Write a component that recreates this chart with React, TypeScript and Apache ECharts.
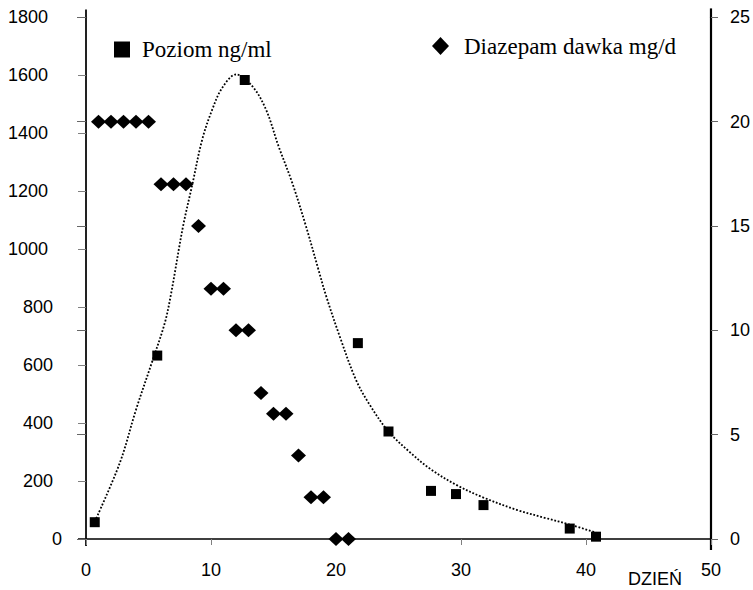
import { useEffect, useRef } from "react";
import * as echarts from "echarts";

// Poziom ng/ml (left axis) — day, level
const levelDays = [0.7, 5.7, 12.7, 21.75, 24.2, 27.6, 29.6, 31.8, 38.7, 40.8];
const levelValues = [58, 633, 1584, 676, 371, 166, 155, 117, 36, 8];

// Diazepam dawka mg/d (right axis) — day, dose
const doseDays = [1, 2, 3, 4, 5, 6, 7, 8, 9, 10, 11, 12, 13, 14, 15, 16, 17, 18, 19, 20, 21];
const doseValues = [20, 20, 20, 20, 20, 17, 17, 17, 15, 12, 12, 10, 10, 7, 6, 6, 4, 2, 2, 0, 0];

// Dotted trend curve
const trendDays = [0.7, 2.7, 4.0, 5.3, 6.3, 6.8, 7.75, 8.5, 9.3, 10.1, 10.9, 12.0, 13.3, 14.4, 15.4, 16.5, 17.6, 18.6, 19.2, 20.3, 21.6, 22.7, 24.2, 25.9, 27.6, 29.7, 31.8, 34.5, 36.8, 38.7, 40.8];
const trendValues = [60, 262, 446, 613, 745, 845, 1076, 1222, 1379, 1482, 1557, 1603, 1563, 1482, 1356, 1229, 1079, 929, 840, 699, 549, 463, 371, 300, 240, 185, 143, 100, 72, 50, 22];

const xTicks = { min: 0, max: 50, interval: 10 };
const leftTicks = { min: 0, max: 1800, interval: 200 };
const rightTicks = { min: 0, max: 25, interval: 5 };

const SANS = '"Liberation Sans", Arial, sans-serif';
const SERIF = '"Liberation Serif", "Times New Roman", serif';

export default function App() {
  const ref = useRef<HTMLDivElement>(null);

  useEffect(() => {
    const chart = echarts.init(ref.current!, null, { renderer: "svg" });
    const numStyle = { fontFamily: SANS, fontSize: 18, color: "#000" };
    chart.setOption({
      animation: false,
      backgroundColor: "#fff",
      grid: { left: 86, right: 41, top: 17.4, bottom: 51, containLabel: false },
      legend: [
        {
          data: [{ name: "Poziom ng/ml", icon: "rect" }],
          left: 109,
          top: 33,
          itemWidth: 16,
          itemHeight: 16,
          selectedMode: false,
          itemStyle: { opacity: 1, color: "#000" },
          textStyle: { fontFamily: SERIF, fontSize: 23, color: "#000", padding: [0, 0, 0, 7] },
        },
        {
          data: [{ name: "Diazepam dawka mg/d", icon: "diamond" }],
          left: 427,
          top: 29.5,
          itemWidth: 17,
          itemHeight: 18,
          selectedMode: false,
          itemStyle: { opacity: 1, color: "#000" },
          textStyle: { fontFamily: SERIF, fontSize: 23, color: "#000", padding: [0, 0, 0, 10] },
        },
      ],
      xAxis: {
        type: "value",
        ...xTicks,
        splitLine: { show: false },
        axisLine: { show: true, onZero: false, lineStyle: { color: "#000", width: 1.5 } },
        axisTick: { show: true, length: 6, lineStyle: { color: "#808080", width: 1 } },
        axisLabel: { ...numStyle, margin: 22 },
      },
      yAxis: [
        {
          type: "value",
          position: "left",
          ...leftTicks,
          splitLine: { show: false },
          axisLine: { show: true, onZero: false, lineStyle: { color: "#222", width: 2 } },
          axisTick: { show: true, length: 8, lineStyle: { color: "#808080", width: 1 } },
          axisLabel: {
            ...numStyle,
            margin: 24,
            align: "right",
            formatter: (v: number) => `{d${String(v).length}|${v}}`,
            rich: {
              d4: { ...numStyle, padding: [0, 14, 0, 0] },
              d3: { ...numStyle, padding: [0, 9, 0, 0] },
              d1: { ...numStyle, padding: [0, 0, 0, 0] },
            },
          },
        },
        {
          type: "value",
          position: "right",
          ...rightTicks,
          splitLine: { show: false },
          axisLine: { show: true, onZero: false, lineStyle: { color: "#000", width: 2.2 } },
          axisTick: { show: true, length: 7, lineStyle: { color: "#666", width: 1 } },
          axisLabel: { ...numStyle, margin: 19, align: "left" },
        },
        {
          type: "value",
          position: "right",
          ...rightTicks,
          splitLine: { show: false },
          axisLine: { show: false },
          axisTick: { show: true, inside: true, length: 9, lineStyle: { color: "#666", width: 1 } },
          axisLabel: { show: false },
        },
      ],
      series: [
        {
          name: "trend",
          type: "line",
          yAxisIndex: 0,
          data: trendDays.map((d, i) => [d, trendValues[i]]),
          smooth: 0.35,
          showSymbol: false,
          symbol: "none",
          z: 1,
          lineStyle: { color: "#000", width: 1.8, type: [1.8, 1.8], opacity: 1 },
        },
        {
          name: "Poziom ng/ml",
          type: "scatter",
          yAxisIndex: 0,
          symbol: "rect",
          symbolSize: 10,
          z: 3,
          itemStyle: { color: "#000", opacity: 1 },
          data: levelDays.map((d, i) => [d, levelValues[i]]),
        },
        {
          name: "Diazepam dawka mg/d",
          type: "scatter",
          yAxisIndex: 1,
          symbol: "diamond",
          symbolSize: [15, 14],
          z: 3,
          itemStyle: { color: "#000", opacity: 1 },
          data: doseDays.map((d, i) => [d, doseValues[i]]),
        },
      ],
    });

    const p0 = chart.convertToPixel({ xAxisIndex: 0, yAxisIndex: 0 }, [xTicks.min, leftTicks.min]) as number[];
    const p1 = chart.convertToPixel({ xAxisIndex: 0, yAxisIndex: 0 }, [xTicks.max, leftTicks.max]) as number[];
    const [xl, yb] = p0;
    const [xr, yt] = p1;
    chart.setOption({
      graphic: [
        { id: "lt", type: "line", shape: { x1: xl, y1: yt - 8, x2: xl, y2: yt }, style: { stroke: "#222", lineWidth: 2 } },
        { id: "lb", type: "line", shape: { x1: xl, y1: yb, x2: xl, y2: yb + 7 }, style: { stroke: "#222", lineWidth: 2 } },
        { id: "rt", type: "line", shape: { x1: xr, y1: yt - 9, x2: xr, y2: yt }, style: { stroke: "#000", lineWidth: 2.2 } },
        { id: "rb", type: "line", shape: { x1: xr, y1: yb, x2: xr, y2: yb + 11 }, style: { stroke: "#000", lineWidth: 2.2 } },
        { id: "bl", type: "line", shape: { x1: xl - 8, y1: yb, x2: xl, y2: yb }, style: { stroke: "#000", lineWidth: 1.5 } },
        {
          id: "xname",
          type: "text",
          x: 628,
          y: 579,
          style: { text: "DZIEŃ", font: `18px ${SANS}`, fill: "#000", verticalAlign: "middle" },
        },
      ],
    });

    return () => chart.dispose();
  }, []);

  return <div ref={ref} style={{ position: "fixed", left: 0, top: 0, width: 753, height: 590 }} />;
}
